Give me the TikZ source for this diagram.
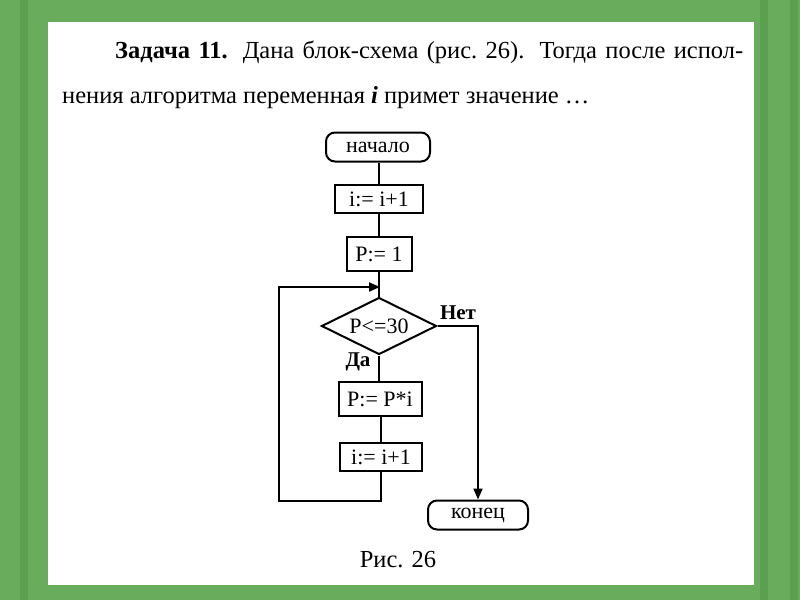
\documentclass[tikz,border=0pt]{standalone}
\usepackage{fontspec}
\setmainfont{Liberation Serif}
\usetikzlibrary{shapes.geometric,arrows.meta}
\definecolor{bg}{RGB}{104,172,92}
\definecolor{bgd}{RGB}{90,160,80}
\begin{document}
\begin{tikzpicture}[x=1pt,y=-1pt,
  box/.style={draw,line width=2pt,minimum width=#1,minimum height=28pt,inner sep=0pt,font=\fontsize{22}{24}\selectfont},
  term/.style={draw,line width=2pt,rounded corners=9pt,minimum width=#1,minimum height=29pt,inner sep=0pt,font=\fontsize{22}{24}\selectfont},
  dec/.style={draw,line width=2pt,diamond,aspect=2,minimum width=115pt,minimum height=57pt,inner sep=0pt,font=\fontsize{22}{24}\selectfont},
  lbl/.style={font=\fontsize{21}{24}\selectfont\bfseries},
  ln/.style={line width=2pt},
  arr/.style={line width=2pt,-{Triangle[length=11pt,width=9pt]}}]
\fill[bg] (0,0) rectangle (800,600);
\foreach \xx in {20,760,790} \fill[bgd] (\xx,0) rectangle (\xx+8,600);
\fill[white] (48,22) rectangle (754,585);
\node[anchor=west,inner sep=0pt,font=\fontsize{24.5}{26}\selectfont] (t1) at (115,52) {\makebox[628pt][s]{\textbf{Задача 11.} Дана блок-схема (рис.~26). Тогда после испол-}};
\node[anchor=west,inner sep=0pt,font=\fontsize{24.5}{26}\selectfont] (t2) at (62,98) {нения алгоритма переменная \textbf{\textit{i}} примет значение …};
\node[term=104pt] (s) at (378,147) {начало};
\node[box=88pt] (a) at (379,199) {i:= i+1};
\node[box=65pt,minimum height=34pt] (b) at (379,254) {P:= 1};
\node[dec] (d) at (379,326) {P<=30};
\node[box=83pt,minimum height=34pt] (c) at (380,399) {P:= P*i};
\node[box=82pt] (e) at (381,457) {i:= i+1};
\node[term=100pt] (f) at (478,515) {конец};
\node[lbl] (da) at (358,362) {Да};
\node[lbl] (net) at (458,313) {Нет};
\node[font=\fontsize{24.5}{26}\selectfont] (cap) at (398,560) {Рис. 26};
\coordinate (j) at (380,287);
\draw[ln] (s.south -| a.north) -- (a.north);
\draw[ln] (a.south) -- (a.south |- b.north);
\draw[ln] (b.south) -- (d.north);
\draw[ln] (d.south) -- (d.south |- c.north);
\draw[ln] (c.south -| e.north) -- (e.north);
\draw[arr] (e.south) -- (381,501) -- (279,501) -- (279,287) -- (j);
\draw[arr] (d.east) -- (478,326) -- (f.north);
\end{tikzpicture}
\end{document}
